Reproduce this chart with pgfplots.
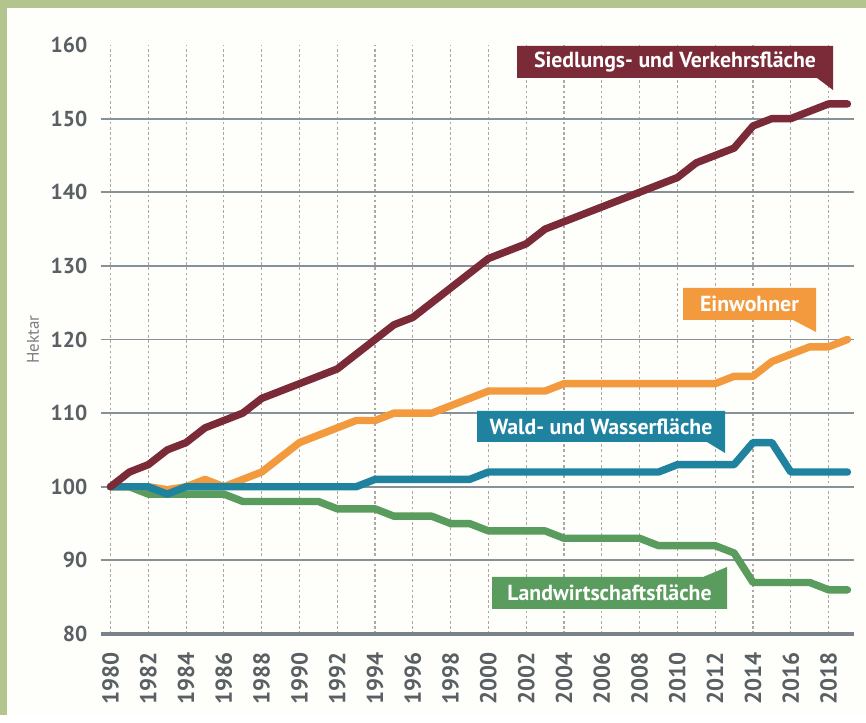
\documentclass[border=0pt]{standalone}
\usepackage{pgfplots}
\pgfplotsset{compat=1.18}
\usepackage{fontspec}
\setmainfont{PT Sans}
\definecolor{bordergreen}{HTML}{B4C48E}
\definecolor{bgwhite}{HTML}{FEFEFB}
\definecolor{cSied}{HTML}{7B2A37}
\definecolor{cEinw}{HTML}{F39A3F}
\definecolor{cWald}{HTML}{1F83A0}
\definecolor{cLand}{HTML}{5A9C5E}
\definecolor{txtgray}{HTML}{5A5F64}
\definecolor{gridgray}{HTML}{86919A}
\definecolor{dashgray}{HTML}{B0A6A6}

\pgfplotstableread{
year sied einw wald land
1980 100 100 100 100
1981 102 100 100 100
1982 103 100 100 99
1983 105 99.6 99 99
1984 106 100 100 99
1985 108 101 100 99
1986 109 100 100 99
1987 110 101 100 98
1988 112 102 100 98
1989 113 104 100 98
1990 114 106 100 98
1991 115 107 100 98
1992 116 108 100 97
1993 118 109 100 97
1994 120 109 101 97
1995 122 110 101 96
1996 123 110 101 96
1997 125 110 101 96
1998 127 111 101 95
1999 129 112 101 95
2000 131 113 102 94
2001 132 113 102 94
2002 133 113 102 94
2003 135 113 102 94
2004 136 114 102 93
2005 137 114 102 93
2006 138 114 102 93
2007 139 114 102 93
2008 140 114 102 93
2009 141 114 102 92
2010 142 114 103 92
2011 144 114 103 92
2012 145 114 103 92
2013 146 115 103 91
2014 149 115 106 87
2015 150 117 106 87
2016 150 118 102 87
2017 151 119 102 87
2018 152 119 102 86
2019 152 120 102 86
}\datatable

\begin{document}
\begin{tikzpicture}
% background and border in pixel coordinates (image top-left origin)
\begin{scope}[shift={(-50.25pt,317pt)}, x=0.5pt, y=-0.5pt]
\useasboundingbox (0,0) rectangle (866,715);
\fill[bordergreen] (0,0) rectangle (866,715);
\fill[bgwhite] (7,8) rectangle (866,715);
\end{scope}
\begin{axis}[
  at={(0,0)}, anchor=south west,
  scale only axis,
  width=376.5pt, height=294.5pt,
  xmin=1979.47, xmax=2019.32,
  ymin=80, ymax=160,
  xtick={1980,1982,...,2018},
  ytick={80,90,...,160},
  extra y ticks={90,100,...,150},
  extra y tick labels={},
  extra y tick style={grid=major, major grid style={gridgray, line width=0.9pt}},
  xmajorgrids,
  major x grid style={dashgray, line width=0.6pt, dash pattern=on 1.3pt off 1.3pt},
  major tick length=0pt,
  axis x line*=bottom,
  axis y line*=left,
  x axis line style={draw=gridgray!90!black, line width=1.6pt, -},
  y axis line style={draw=none},
  x tick label style={rotate=90, anchor=east, font=\bfseries\fontsize{11.5}{13}\selectfont, text=txtgray, inner xsep=9pt},
  y tick label style={font=\bfseries\fontsize{10.8}{13}\selectfont, text=txtgray, xshift=-3pt},
  /pgf/number format/assume math mode=true,
  xticklabel={\pgfmathprintnumber[1000 sep={}]{\tick}},
  ylabel={Hektar},
  every axis y label/.style={at={(axis description cs:-0.0896,0.5)}, rotate=90, anchor=center, font=\fontsize{8.5}{10}\selectfont, text=txtgray!80},
  every axis plot/.append style={line width=3.7pt, line join=round, line cap=round},
]
\addplot[cLand] table[x=year, y=land] {\datatable};
\addplot[cEinw] table[x=year, y=einw] {\datatable};
\addplot[cWald] table[x=year, y=wald] {\datatable};
\addplot[cSied] table[x=year, y=sied] {\datatable};
\end{axis}
\begin{scope}[shift={(-50.25pt,317pt)}, x=0.5pt, y=-0.5pt]
\tikzset{lab/.style={text=white, font=\bfseries\fontsize{10.9}{13}\selectfont, inner sep=0pt}}
\fill[cSied] (517,46) -- (833,46) -- (833,90) -- (817,78) -- (517,78) -- cycle;
\node[lab] at (675,62) {Siedlungs- und Verkehrsfläche};
\fill[cEinw] (683,288) -- (816,288) -- (816,332) -- (793,320) -- (683,320) -- cycle;
\node[lab] at (749.5,304) {Einwohner};
\fill[cWald] (477,411) -- (725,411) -- (725,453) -- (707,442) -- (477,442) -- cycle;
\node[lab] at (601,426.5) {Wald- und Wasserfläche};
\fill[cLand] (492,577) -- (703,577) -- (727,567) -- (727,609) -- (492,609) -- cycle;
\node[lab] at (609.5,593) {Landwirtschaftsfläche};
\end{scope}
\end{tikzpicture}
\end{document}
